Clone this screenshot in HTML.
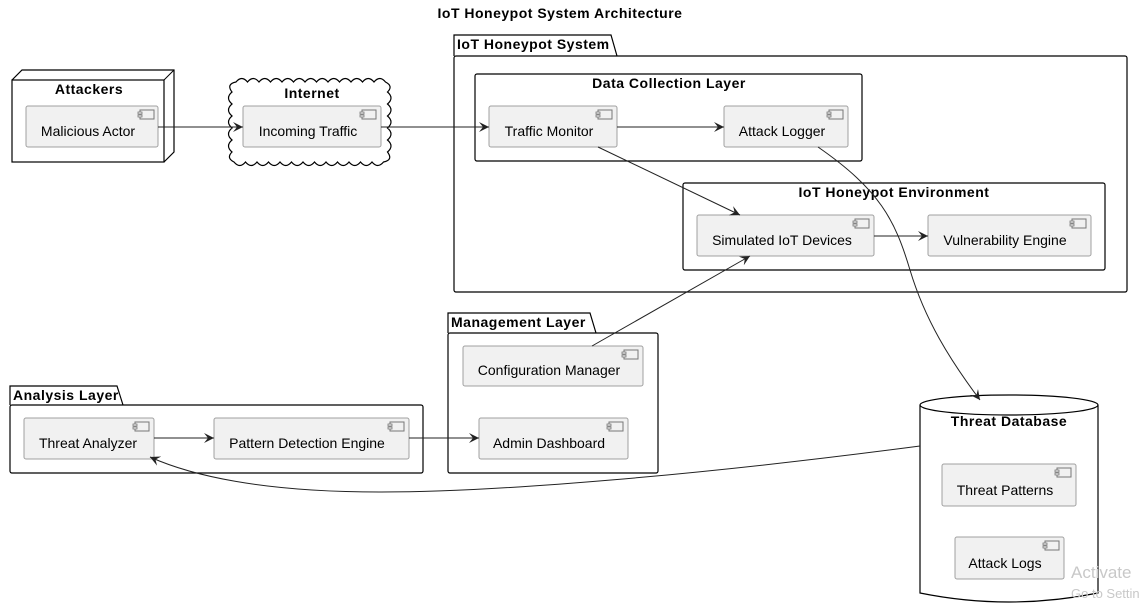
<!DOCTYPE html>
<html><head><meta charset="utf-8"><style>
html,body{margin:0;padding:0;background:#fff;}
svg{display:block;font-family:"Liberation Sans",Arial,sans-serif;}
.c{fill:#f1f1f1;stroke:#a0a0a0;stroke-width:1;}
.t{font-size:14px;fill:#000;text-anchor:middle;}
.b{font-size:14px;font-weight:bold;fill:#000;text-anchor:middle;letter-spacing:0.5px;}
.bl{font-size:14px;font-weight:bold;fill:#000;letter-spacing:0.5px;}
.e{stroke:#222;stroke-width:1;fill:none;marker-end:url(#a);}
.fr{fill:none;stroke:#000;stroke-width:1.2;}
</style></head><body>
<svg width="1148" height="614" viewBox="0 0 1148 614">
<defs>
<marker id="a" markerWidth="12" markerHeight="10" refX="10" refY="5" orient="auto" markerUnits="userSpaceOnUse">
<path d="M0,0 L10,5 L0,10 L4,5 Z" fill="#222"/></marker>
<g id="ic"><rect x="0" y="0" width="14" height="9" fill="#f1f1f1" stroke="#777"/><rect x="-2" y="2" width="4" height="2" fill="#f1f1f1" stroke="#777" stroke-width="0.8"/><rect x="-2" y="5" width="4" height="2" fill="#f1f1f1" stroke="#777" stroke-width="0.8"/></g>
</defs>
<text x="560" y="18" class="b">IoT Honeypot System Architecture</text>

<!-- Attackers node -->
<path d="M12,80 L22,70 L174,70 L174,152 L164,162" class="fr"/>
<line x1="164" y1="80" x2="174" y2="70" stroke="#000"/>
<rect x="12" y="80" width="152" height="82" class="fr"/>
<text x="89" y="94" class="b">Attackers</text>
<rect x="26" y="106" width="132" height="41" rx="2" class="c"/><use href="#ic" x="140" y="110"/>
<text x="88" y="136" class="t">Malicious Actor</text>

<!-- Internet cloud -->
<path d="M236,82 q5.75,-7 11.5,0 q5.75,-7 11.5,0 q5.75,-7 11.5,0 q5.75,-7 11.5,0 q5.75,-7 11.5,0 q5.75,-7 11.5,0 q5.75,-7 11.5,0 q5.75,-7 11.5,0 q5.75,-7 11.5,0 q5.75,-7 11.5,0 q5.75,-7 11.5,0 q5.75,-7 11.5,0 q5.75,-7 11.5,0
q8,4 2,10 q7,6 0,12 q7,6 0,12 q7,6 0,12 q7,6 0,12 q7,6 0,12 q6,8 -4,10
q-5.75,7 -11.5,0 q-5.75,7 -11.5,0 q-5.75,7 -11.5,0 q-5.75,7 -11.5,0 q-5.75,7 -11.5,0 q-5.75,7 -11.5,0 q-5.75,7 -11.5,0 q-5.75,7 -11.5,0 q-5.75,7 -11.5,0 q-5.75,7 -11.5,0 q-5.75,7 -11.5,0 q-5.75,7 -11.5,0 q-5.75,7 -11.5,0
q-8,-4 -2,-10 q-7,-6 0,-12 q-7,-6 0,-12 q-7,-6 0,-12 q-7,-6 0,-12 q-7,-6 0,-12 q-6,-8 4,-10 Z" class="fr" stroke-width="1"/>
<text x="312" y="98" class="b">Internet</text>
<rect x="243" y="106" width="138" height="41" rx="2" class="c"/><use href="#ic" x="362" y="110"/>
<text x="308" y="136" class="t">Incoming Traffic</text>

<!-- IoT Honeypot System package -->
<path d="M454,56 L454,35 L611,35 L617,56" class="fr"/>
<rect x="454" y="56" width="673" height="236" rx="2" class="fr"/>
<text x="457" y="49" class="bl">IoT Honeypot System</text>

<rect x="475" y="74" width="387" height="87" rx="2" class="fr" stroke-width="1"/>
<text x="669" y="88" class="b">Data Collection Layer</text>
<rect x="489" y="106" width="128" height="41" rx="2" class="c"/><use href="#ic" x="598" y="110"/>
<text x="549" y="136" class="t">Traffic Monitor</text>
<rect x="724" y="106" width="124" height="41" rx="2" class="c"/><use href="#ic" x="829" y="110"/>
<text x="782" y="136" class="t">Attack Logger</text>

<rect x="683" y="183" width="422" height="87" rx="2" class="fr" stroke-width="1"/>
<text x="894" y="197" class="b">IoT Honeypot Environment</text>
<rect x="697" y="215" width="177" height="41" rx="2" class="c"/><use href="#ic" x="855" y="219"/>
<text x="782" y="245" class="t">Simulated IoT Devices</text>
<rect x="928" y="215" width="163" height="41" rx="2" class="c"/><use href="#ic" x="1072" y="219"/>
<text x="1005" y="245" class="t">Vulnerability Engine</text>

<!-- Management Layer -->
<path d="M448,333 L448,313 L590,313 L596,333" class="fr"/>
<rect x="448" y="333" width="210" height="140" rx="2" class="fr"/>
<text x="451" y="327" class="bl">Management Layer</text>
<rect x="463" y="346" width="180" height="40" rx="2" class="c"/><use href="#ic" x="624" y="350"/>
<text x="549" y="375" class="t">Configuration Manager</text>
<rect x="479" y="418" width="149" height="41" rx="2" class="c"/><use href="#ic" x="609" y="422"/>
<text x="549" y="448" class="t">Admin Dashboard</text>

<!-- Analysis Layer -->
<path d="M10,405 L10,386 L117,386 L123,405" class="fr"/>
<rect x="10" y="405" width="413" height="68" rx="2" class="fr"/>
<text x="13" y="400" class="bl">Analysis Layer</text>
<rect x="24" y="418" width="130" height="41" rx="2" class="c"/><use href="#ic" x="135" y="422"/>
<text x="88" y="448" class="t">Threat Analyzer</text>
<rect x="214" y="418" width="195" height="41" rx="2" class="c"/><use href="#ic" x="390" y="422"/>
<text x="307" y="448" class="t">Pattern Detection Engine</text>

<!-- Threat Database -->
<path d="M920,405 L920,593 Q1009,611 1098,593 L1098,405" class="fr"/>
<ellipse cx="1009" cy="405" rx="89" ry="10" class="fr" fill="#fff"/>
<text x="1009" y="426" class="b">Threat Database</text>
<rect x="942" y="464" width="134" height="42" rx="2" class="c"/><use href="#ic" x="1057" y="468"/>
<text x="1005" y="495" class="t">Threat Patterns</text>
<rect x="955" y="537" width="109" height="42" rx="2" class="c"/><use href="#ic" x="1045" y="541"/>
<text x="1005" y="568" class="t">Attack Logs</text>

<!-- Edges -->
<line x1="158" y1="127" x2="243" y2="127" class="e"/>
<line x1="381" y1="127" x2="489" y2="127" class="e"/>
<line x1="617" y1="127" x2="724" y2="127" class="e"/>
<line x1="598" y1="147" x2="740" y2="215" class="e"/>
<line x1="874" y1="236" x2="928" y2="236" class="e"/>
<path d="M818,147 C880,190 895,220 910,270 C925,320 950,360 980,400" class="e"/>
<line x1="592" y1="346" x2="750" y2="256" class="e"/>
<line x1="409" y1="438" x2="479" y2="438" class="e"/>
<line x1="154" y1="438" x2="214" y2="438" class="e"/>
<path d="M920,446 C700,475 500,492 380,492 C260,492 190,475 150,457" class="e"/>

<text x="1071" y="578" font-size="17" fill="#c8c8c8">Activate</text>
<text x="1071" y="598" font-size="13" fill="#c8c8c8">Go to Settin</text>
</svg>
</body></html>
